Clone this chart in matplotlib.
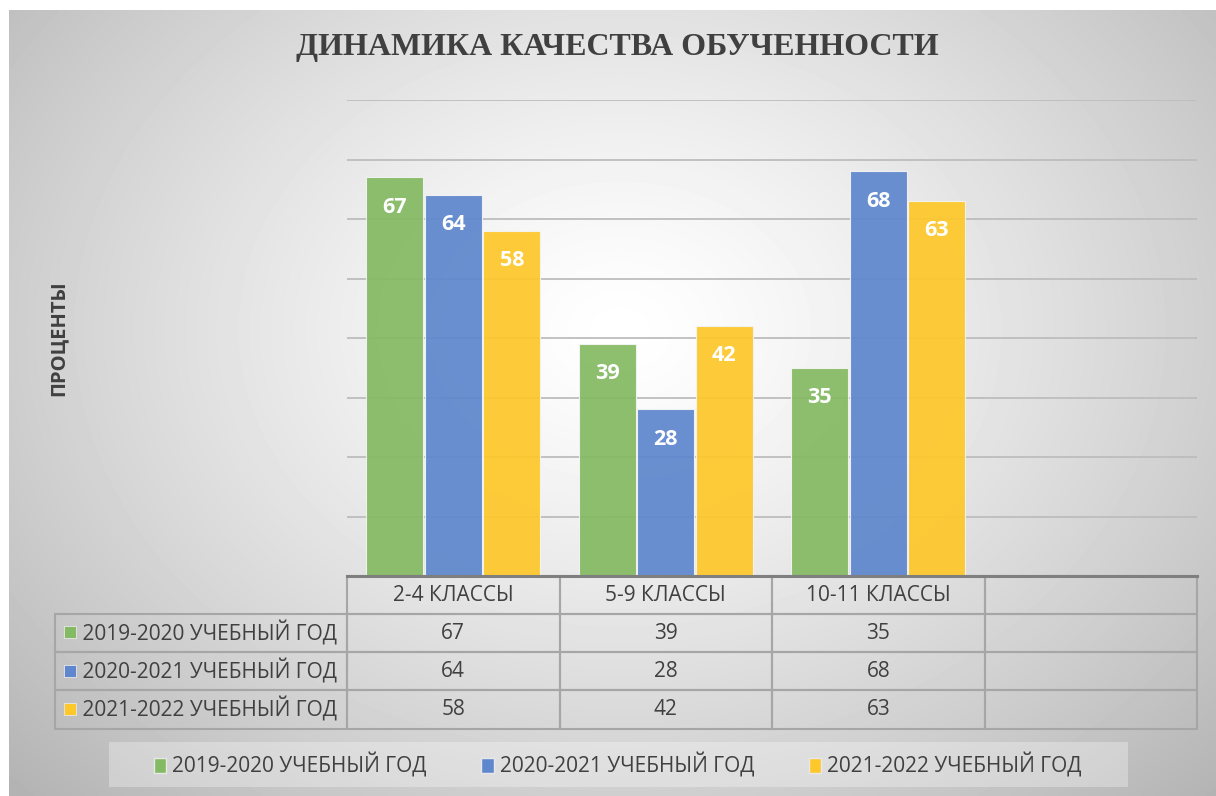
import numpy as np
import matplotlib
matplotlib.use("Agg")
import matplotlib.pyplot as plt
from matplotlib.patches import Patch, Rectangle


# ==========================
# Data
# ==========================

categories = ["2-4 КЛАССЫ", "5-9 КЛАССЫ", "10-11 КЛАССЫ", ""]

series_names = [
    "2019-2020 УЧЕБНЫЙ ГОД",
    "2020-2021 УЧЕБНЫЙ ГОД",
    "2021-2022 УЧЕБНЫЙ ГОД",
]

y2019 = [67, 39, 35]
y2020 = [64, 28, 68]
y2021 = [58, 42, 63]

series_values = [y2019, y2020, y2021]

colors = ["#84BA63", "#5E87CD", "#FEC72A"]

title = "ДИНАМИКА КАЧЕСТВА ОБУЧЕННОСТИ"
ylabel = "ПРОЦЕНТЫ"


# ==========================
# Style
# ==========================

plt.rcParams["font.family"] = ["Open Sans", "DejaVu Sans"]

text_color = "#404040"
grid_color = "#bdbdbd"
table_line = "#a6a6a6"

W, H = 1216, 796
fig = plt.figure(figsize=(W / 100, H / 100), dpi=100)
fig.patch.set_facecolor("white")


# ==========================
# Background gradient
# ==========================

bg = fig.add_axes([9 / W, 0, 1 - 9 / W, 1 - 10 / H], zorder=-10)
gx, gy = np.meshgrid(np.linspace(9, W, 300), np.linspace(10, H, 200))
r = np.sqrt(((gx - 620) / 720) ** 2 + ((gy - 330) / 560) ** 2)
shade = 1.0 - 0.24 * np.clip(r, 0, 1.2) ** 1.3
bg.imshow(shade, cmap="gray", vmin=0, vmax=1, aspect="auto",
          extent=[0, 1, 0, 1], interpolation="bilinear")
bg.axis("off")


# ==========================
# Plot area
# ==========================

left_px, right_px = 347, 1197
top_px, base_px = 100, 576

ax = fig.add_axes([
    left_px / W,
    1 - base_px / H,
    (right_px - left_px) / W,
    (base_px - top_px) / H,
])
ax.patch.set_alpha(0)

x = np.arange(len(categories))
bar_w = 0.27
offsets = [-bar_w, 0, bar_w]

for vals, name, col, off in zip(series_values, series_names, colors, offsets):
    bars = ax.bar(
        x[:len(vals)] + off * 1.02,
        vals,
        width=bar_w,
        color=col,
        alpha=0.93,
        edgecolor="#f4f4f4",
        linewidth=0.8,
        label=name,
        zorder=3,
    )
    ax.bar_label(
        bars,
        padding=-29,
        color="white",
        fontsize=15.5,
        fontweight="bold",
    )

ax.set_xlim(-0.5, len(categories) - 0.5)
ax.set_ylim(0, 80)
ax.set_yticks(np.arange(10, 81, 10))
ax.yaxis.grid(True, color=grid_color, linewidth=1.3, zorder=0)
ax.tick_params(left=False, bottom=False, labelleft=False, labelbottom=False)
for s in ax.spines.values():
    s.set_visible(False)

ax.axhline(0, color="#7f7f7f", linewidth=2.2, zorder=5, clip_on=False)

ax.set_ylabel(ylabel, fontsize=14.5, fontweight="bold", color=text_color)
ax.yaxis.set_label_coords((69 - left_px) / (right_px - left_px), 0.5)


# ==========================
# Data table
# ==========================

label_w = left_px - 55
cat_w = (right_px - left_px) / len(categories)
col_widths = [label_w] + [cat_w] * len(categories)
col_widths = [c / sum(col_widths) for c in col_widths]

header_h, row_h = 37, 38.5
table_h = header_h + row_h * len(series_names)

cell_text = [[""] + categories]
for name, vals in zip(series_names, series_values):
    cell_text.append(["    " + name] + [str(v) for v in vals] + [""])

ax_w = right_px - left_px
ax_h = base_px - top_px
tbl_x0 = (55 - left_px) / ax_w
tbl_y0 = -table_h / ax_h

tbl = ax.table(
    cellText=cell_text,
    colWidths=col_widths,
    cellLoc="center",
    bbox=[tbl_x0, tbl_y0, (right_px - 55) / ax_w, table_h / ax_h],
)
tbl.auto_set_font_size(False)
tbl.set_fontsize(15)

for (r_i, c_i), cell in tbl.get_celld().items():
    cell.set_edgecolor(table_line)
    cell.set_linewidth(1.5)
    cell.set_facecolor("none")
    cell.get_text().set_color(text_color)
    if c_i == 0:
        cell.get_text().set_horizontalalignment("left")
        cell.PAD = 0.02
tbl[0, 0].visible_edges = ""

# colour squares in the row labels
for i, col in enumerate(colors):
    yc = -(header_h + row_h * (i + 0.5)) / ax_h
    ax.scatter(
        (70 - left_px) / ax_w, yc,
        marker="s", s=80, color=col,
        edgecolors="#e8e8e8", linewidths=0.6,
        transform=ax.transAxes, clip_on=False, zorder=6,
    )


# ==========================
# Legend
# ==========================

fig.patches.append(Rectangle(
    (109 / W, 1 - 787 / H), (1128 - 109) / W, 45 / H,
    transform=fig.transFigure, facecolor="white", alpha=0.3,
    edgecolor="none", zorder=-5,
))

handles = [Patch(facecolor=c, edgecolor="#e8e8e8") for c in colors]
fig.legend(
    handles,
    series_names,
    loc="center",
    bbox_to_anchor=(0.508, 1 - 765 / H),
    ncol=3,
    frameon=False,
    fontsize=15,
    labelcolor=text_color,
    handlelength=0.6,
    handleheight=0.75,
    handletextpad=0.3,
    columnspacing=2.6,
)


# ==========================
# Title
# ==========================

fig.text(
    0.508, 1 - 48 / H, title,
    ha="center", va="center",
    fontsize=23, fontweight="bold",
    family=["Liberation Serif", "DejaVu Serif"],
    color=text_color,
)


fig.savefig("out.png", dpi=100)
